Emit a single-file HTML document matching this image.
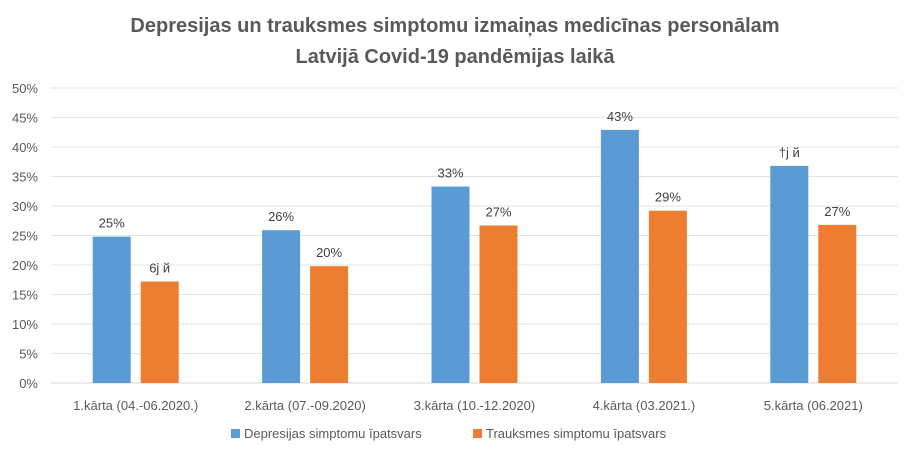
<!DOCTYPE html>
<html><head><meta charset="utf-8"><style>
body{margin:0;background:#fff;}
svg{display:block;font-family:"Liberation Sans","DejaVu Sans",sans-serif;}
</style></head><body>
<svg id="c" width="911" height="456">
<text x="455" y="32" text-anchor="middle" font-size="20" font-weight="bold" fill="#595959">Depresijas un trauksmes simptomu izmaiņas medicīnas personālam</text>
<text x="455" y="63" text-anchor="middle" font-size="20" font-weight="bold" fill="#595959">Latvijā Covid-19 pandēmijas laikā</text>
<g id="grid"></g><g id="bars"></g>
<g>
<rect x="231" y="429" width="9" height="9" fill="#5b9bd5"/>
<text x="244" y="438" font-size="13" fill="#595959">Depresijas simptomu īpatsvars</text>
<rect x="473" y="429" width="9" height="9" fill="#ed7d31"/>
<text x="486" y="438" font-size="13" fill="#595959">Trauksmes simptomu īpatsvars</text>
</g>
</svg>
<script>
const categories=["1.kārta (04.-06.2020.)","2.kārta (07.-09.2020)","3.kārta (10.-12.2020)","4.kārta (03.2021.)","5.kārta (06.2021)"];
const depression=[24.8,25.9,33.3,42.9,36.8];
const anxiety=[17.2,19.8,26.7,29.2,26.8];
const depLabels=["25%","26%","33%","43%","†j й"];
const anxLabels=["6j й","20%","27%","29%","27%"];
const yTicks=[0,5,10,15,20,25,30,35,40,45,50];
const NS="http://www.w3.org/2000/svg";
const L=51,R=898,Y0=383,Y50=88;
const y=v=>Y0-(v/50)*(Y0-Y50);
const bw=(R-L)/categories.length;
const cx=i=>L+bw*(i+0.5);
function mk(t,a,p){const e=document.createElementNS(NS,t);for(const k in a)e.setAttribute(k,a[k]);p.appendChild(e);return e;}
const g=document.getElementById('grid'),b=document.getElementById('bars');
yTicks.forEach(t=>{
 const l=mk('line',{x1:L,x2:R,y1:y(t),y2:y(t),stroke:t===0?'#d9d9d9':'#e3e3e3','stroke-width':1},g);
 
 
 const tx=mk('text',{x:38,y:y(t)+5,'text-anchor':'end','font-size':13,fill:'#595959'},g);
 tx.textContent=t+'%';
 
 
});
categories.forEach((c,i)=>{
 const x=cx(i);
 const r1=mk('rect',{x:x-43,y:y(depression[i]),width:38,height:Y0-y(depression[i]),fill:'#5b9bd5'},b);
 
 
 const r2=mk('rect',{x:x+5,y:y(anxiety[i]),width:38,height:Y0-y(anxiety[i]),fill:'#ed7d31'},b);
 
 
 const t1=mk('text',{x:x-24,y:y(depression[i])-9,'text-anchor':'middle','font-size':13,fill:'#404040'},b);
 t1.textContent=depLabels[i];
 
 
 const t2=mk('text',{x:x+24,y:y(anxiety[i])-9,'text-anchor':'middle','font-size':13,fill:'#404040'},b);
 t2.textContent=anxLabels[i];
 
 
 const ct=mk('text',{x:x,y:410,'text-anchor':'middle','font-size':13,fill:'#595959'},b);
 ct.textContent=c;
 
 
});
</script>
</body></html>
